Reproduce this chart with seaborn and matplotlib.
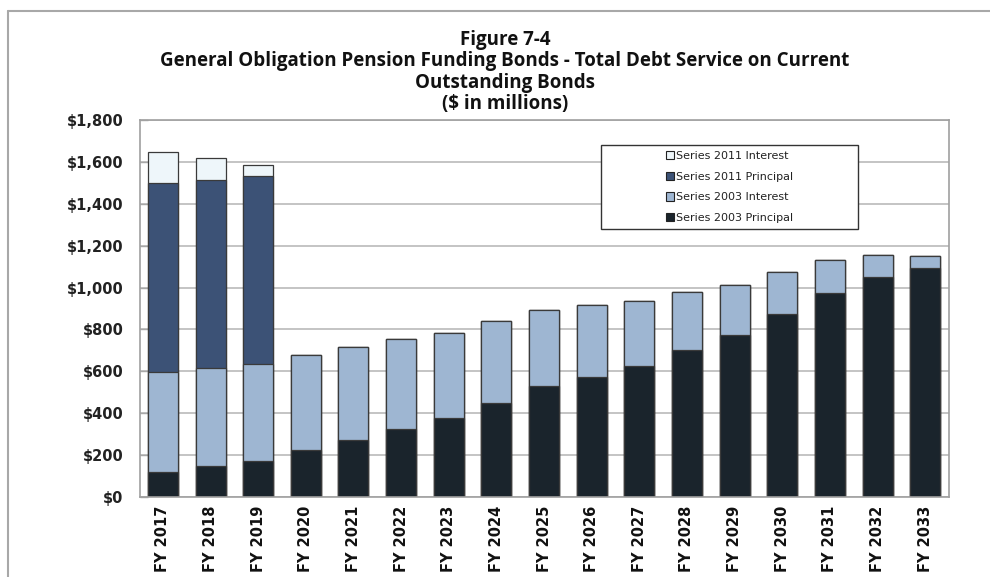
import numpy as np
import pandas as pd
import seaborn as sns
import matplotlib.pyplot as plt
from matplotlib.patches import Patch, Rectangle
from matplotlib.lines import Line2D

# Fiscal years and debt service components ($ millions)
years = ["FY 2017", "FY 2018", "FY 2019", "FY 2020", "FY 2021", "FY 2022",
         "FY 2023", "FY 2024", "FY 2025", "FY 2026", "FY 2027", "FY 2028",
         "FY 2029", "FY 2030", "FY 2031", "FY 2032", "FY 2033"]
principal_2003 = [120, 148, 172, 223, 274, 327, 378, 451, 529, 573, 626, 704,
                  775, 875, 975, 1049, 1092]
interest_2003 = [477, 468, 462, 454, 440, 425, 406, 390, 366, 346, 311, 273,
                 239, 198, 157, 107, 57]
principal_2011 = [900, 897, 898, 0, 0, 0, 0, 0, 0, 0, 0, 0, 0, 0, 0, 0, 0]
interest_2011 = [148, 104, 53, 0, 0, 0, 0, 0, 0, 0, 0, 0, 0, 0, 0, 0, 0]

series_names = ["Series 2011 Interest", "Series 2011 Principal",
                "Series 2003 Interest", "Series 2003 Principal"]
colors = {"Series 2011 Interest": "#EEF6FA",
          "Series 2011 Principal": "#3C5276",
          "Series 2003 Interest": "#9EB6D2",
          "Series 2003 Principal": "#1A242C"}

df = pd.DataFrame({"year": years,
                   "Series 2003 Principal": principal_2003,
                   "Series 2003 Interest": interest_2003,
                   "Series 2011 Principal": principal_2011,
                   "Series 2011 Interest": interest_2011})

sns.set_theme(style="white")
plt.rcParams["font.family"] = ["DejaVu Sans"]

fig = plt.figure(figsize=(9.9, 5.77), dpi=100)
ax = fig.add_axes([140 / 990, 1 - 497 / 577, 809 / 990, 377 / 577])

# Stacked bars: draw cumulative totals from the top layer down
stack_order = ["Series 2003 Principal", "Series 2003 Interest",
               "Series 2011 Principal", "Series 2011 Interest"]
cum = df[stack_order].cumsum(axis=1)
for name in reversed(stack_order):
    sns.barplot(x=df["year"], y=cum[name], color=colors[name], saturation=1,
                width=0.63, edgecolor="#3a3a3a", linewidth=0.9,
                errorbar=None, ax=ax)

ax.set_xlim(-0.48, 16.5)
ax.set_ylim(0, 1800)
ax.set_yticks(np.arange(0, 1801, 200))
ax.set_yticklabels([f"${v:,.0f}" for v in np.arange(0, 1801, 200)],
                   fontweight="bold", fontsize=10.5, color="#222222")
ax.set_xticks(range(len(years)))
ax.set_xticklabels(years, rotation=90, fontweight="bold", fontsize=10.5,
                   color="#111111")
ax.set_xlabel("")
ax.set_ylabel("")
ax.tick_params(axis="y", length=6, width=1, color="#a8a8a8", pad=12,
               direction="in", left=True)
ax.tick_params(axis="x", length=0, pad=6)

ax.set_axisbelow(True)
ax.yaxis.grid(True, color="#c4c4c4", linewidth=1.4)
for side in ["left", "right", "top", "bottom"]:
    ax.spines[side].set_visible(True)
    ax.spines[side].set_color("#a0a0a0")
    ax.spines[side].set_linewidth(1.2)

# Legend in a framed box
handles = [Patch(facecolor=colors[n], edgecolor="#222222", linewidth=0.8)
           for n in series_names]
ax.add_patch(Rectangle((0.570, 0.711), 0.3175, 0.223, transform=ax.transAxes,
                       facecolor="white", edgecolor="#333333", linewidth=1.0,
                       zorder=5))
leg = ax.legend(handles, series_names, loc="center",
                bbox_to_anchor=(0.7287, 0.822), frameon=False, fontsize=8,
                handlelength=0.75, handleheight=0.75, handletextpad=0.15,
                labelspacing=0.95, borderpad=0.2)
leg.set_zorder(6)
for t in leg.get_texts():
    t.set_color("#222222")

# Title block
title_lines = ["Figure 7-4",
               "General Obligation Pension Funding Bonds - Total Debt Service on Current",
               "Outstanding Bonds",
               "($ in millions)"]
title_y = [40, 61, 83, 104]
for line, y in zip(title_lines, title_y):
    fig.text(505 / 990, 1 - y / 577, line, ha="center", va="center",
             fontsize=13.5, fontweight="bold", family="Open Sans",
             color="#111111")

# Outer chart frame
fig.add_artist(Line2D([8 / 990, 8 / 990], [0, 1 - 11 / 577],
                      transform=fig.transFigure, color="#a8a8a8", linewidth=1.5))
fig.add_artist(Line2D([8 / 990, 1], [1 - 11 / 577, 1 - 11 / 577],
                      transform=fig.transFigure, color="#a8a8a8", linewidth=1.5))

fig.savefig("out.png", dpi=100)
